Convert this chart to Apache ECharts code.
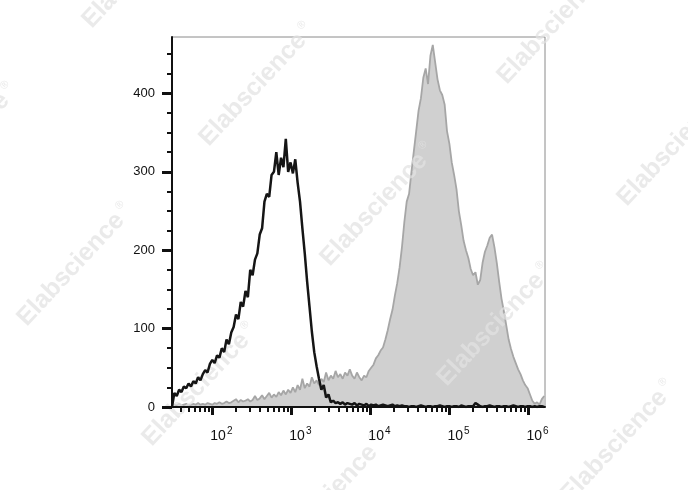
<!DOCTYPE html>
<html><head><meta charset="utf-8">
<script src="https://cdn.jsdelivr.net/npm/echarts@6/dist/echarts.min.js"></script>
<style>html,body{margin:0;padding:0;background:#fff}#c{width:688px;height:490px}</style>
</head><body><div id="c"></div>
<script>
// Histogram channels: x = log10(fluorescence intensity), one value per channel
const binStart = 1.49;
const binStep = 0.03;

// Black open histogram (control)
const controlCounts = [
  0,18,14,22,19,26,24,30,26,33,
  30,38,34,42,47,44,55,60,56,66,
  63,75,70,86,80,95,102,118,112,134,
  128,148,140,175,168,188,196,220,228,262,
  272,268,296,300,325,296,318,306,342,300,
  312,298,316,286,262,228,196,160,128,96,
  70,52,36,22,28,12,16,6,8,5,
  6,4,6,3,5,4,3,5,2,4,
  3,2,4,1,
  3,2,3,1,2,3,2,1,2,3,
  1,2,1,2,1,1,0,1,1,0,
  1,2,1,0,1,1,0,1,1,2,
  1,0,1,1,0,1,1,0,2,1,
  0,1,1,1,5,3,1,0,1,1,
  2,1,0,1,1,0,1,1,0,1,
  2,1,0,1,1,0,1,1,0,1,
  0,1,1,0
];

// Grey filled histogram (stained)
const stainedCounts = [
  2,3,2,4,2,3,4,2,3,4,
  3,5,3,4,3,5,4,3,5,4,
  6,4,5,7,5,6,8,10,6,9,
  7,8,10,7,9,14,9,11,15,10,
  14,18,12,16,13,19,15,21,16,22,
  18,25,19,28,22,36,24,30,26,38,
  30,34,28,36,32,44,34,40,36,46,
  38,42,36,44,40,48,40,36,44,38,
  34,40,38,46,
  50,54,62,66,72,76,86,98,112,124,
  142,158,178,204,236,262,272,300,326,352,
  378,394,420,432,412,448,462,440,418,404,
  398,386,352,336,312,296,278,250,232,212,
  200,190,176,168,172,156,162,184,198,206,
  216,220,204,184,160,138,122,104,86,74,
  64,56,48,42,34,28,24,16,8,4,
  6,3,10,14
];

const decadeExponents = [2, 3, 4, 5, 6];
const yTickValues = [0, 100, 200, 300, 400];
const watermarkWord = 'Elabscience';

const xMin = 1.49, xMax = 6.21, yMin = 0, yMax = 472;

function toPairs(counts) {
  return counts.map((c, i) => [binStart + i * binStep, c]);
}

// minor log tick positions
const minorX = [];
for (let n = 1; n <= 6; n++) {
  for (let k = 2; k <= 9; k++) {
    const v = n + Math.log10(k);
    if (v > xMin && v < xMax) minorX.push(v);
  }
}
const minorY = [];
for (let v = 25; v <= 450; v += 25) if (v % 100 !== 0) minorY.push(v);

const wmCenters = [
  [140, -33], [555, 23], [-40, 145], [257, 85], [675, 145],
  [75, 265], [378, 205], [200, 385], [495, 325], [618, 442], [328, 497]
];
const wmRot = 47 * Math.PI / 180;
const watermarks = wmCenters.map(p => ({
  type: 'text', x: p[0], y: p[1], rotation: wmRot, z: 2, silent: true,
  style: {
    text: watermarkWord + '{r|®}',
    font: 'bold 25px "Liberation Sans", Arial, sans-serif',
    fill: 'rgba(226,226,226,0.72)',
    align: 'center', verticalAlign: 'middle',
    rich: { r: { fontSize: 11, fontFamily: '"Liberation Sans", Arial, sans-serif', fill: 'rgba(226,226,226,0.72)', padding: [0, 0, 16, 4] } }
  }
}));

const chart = echarts.init(document.getElementById('c'), null, { renderer: 'canvas' });
const fontFam = '"Liberation Sans", Arial, sans-serif';
chart.setOption({
  animation: false,
  backgroundColor: '#ffffff',
  grid: { left: 172, right: 143, top: 37, bottom: 83, show: true, borderColor: '#8a8a8a', borderWidth: 1, backgroundColor: 'transparent' },
  xAxis: [
    {
      type: 'value', min: xMin, max: xMax, z: 4,
      axisLine: { show: true, onZero: false, lineStyle: { color: '#111', width: 2 } },
      splitLine: { show: false },
      axisTick: { show: true, customValues: decadeExponents, length: 8, lineStyle: { color: '#111', width: 3 } },
      axisLabel: {
        show: true, customValues: decadeExponents, margin: 19, align: 'left', padding: [0, 0, 0, -2],
        fontSize: 14, fontFamily: fontFam, color: '#111',
        formatter: v => '{b|10}{s|' + v + '}',
        rich: {
          b: { fontSize: 14, fontFamily: fontFam, color: '#111' },
          s: { fontSize: 10, fontFamily: fontFam, color: '#111', padding: [0, 0, 10, 1] }
        }
      }
    },
    {
      type: 'value', min: xMin, max: xMax, position: 'bottom', z: 4,
      axisLine: { show: false }, splitLine: { show: false }, axisLabel: { show: false },
      axisTick: { show: true, customValues: minorX, length: 5, lineStyle: { color: '#111', width: 2 } }
    }
  ],
  yAxis: [
    {
      type: 'value', min: yMin, max: yMax, z: 4,
      axisLine: { show: true, onZero: false, lineStyle: { color: '#111', width: 2 } },
      splitLine: { show: false },
      axisTick: { show: true, customValues: yTickValues, length: 10, lineStyle: { color: '#111', width: 3 } },
      axisLabel: { show: true, customValues: yTickValues, margin: 17, fontSize: 13, fontFamily: fontFam, color: '#111' }
    },
    {
      type: 'value', min: yMin, max: yMax, position: 'left', z: 4,
      axisLine: { show: false }, splitLine: { show: false }, axisLabel: { show: false },
      axisTick: { show: true, customValues: minorY, length: 5, lineStyle: { color: '#111', width: 2 } }
    }
  ],
  graphic: watermarks,
  series: [
    {
      type: 'line', name: 'stained', xAxisIndex: 0, yAxisIndex: 0, z: 1,
      data: toPairs(stainedCounts), showSymbol: false, symbol: 'none',
      lineStyle: { color: '#a6a6a6', width: 1.8 },
      areaStyle: { color: '#d0d0d0', opacity: 1 }
    },
    {
      type: 'line', name: 'control', xAxisIndex: 0, yAxisIndex: 0, z: 3,
      data: toPairs(controlCounts), showSymbol: false, symbol: 'none',
      lineStyle: { color: '#151515', width: 2.5 }
    }
  ]
});
</script>
</body></html>
